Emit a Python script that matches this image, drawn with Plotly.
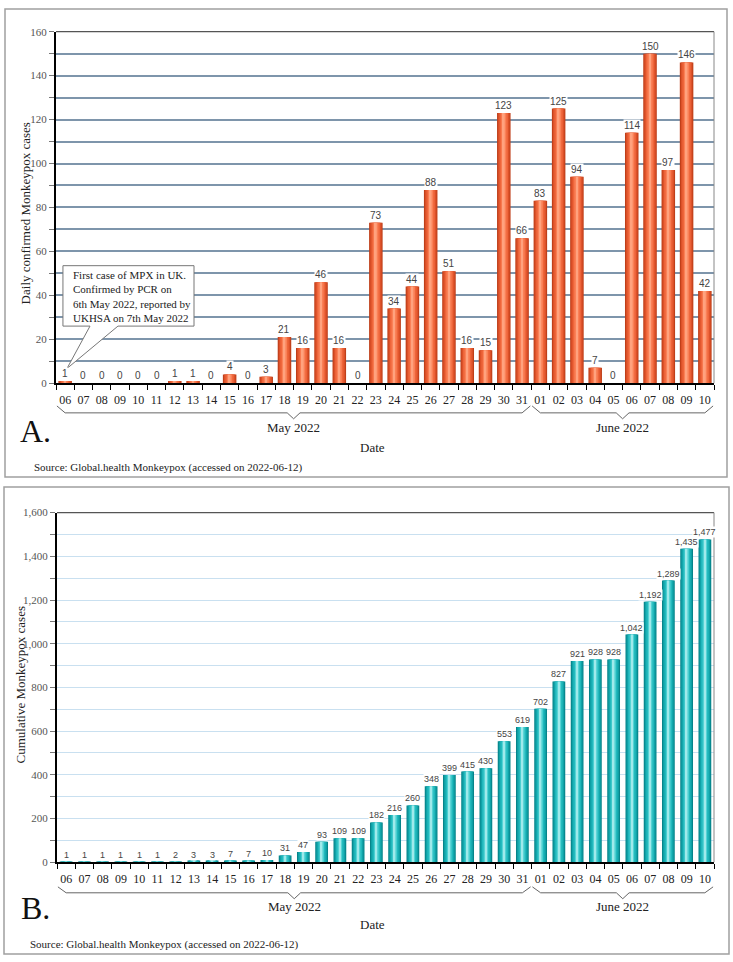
import plotly.graph_objects as go

# data
days = ["06", "07", "08", "09", "10", "11", "12", "13", "14", "15", "16", "17", "18",
        "19", "20", "21", "22", "23", "24", "25", "26", "27", "28", "29", "30", "31",
        "01", "02", "03", "04", "05", "06", "07", "08", "09", "10"]
months = ["May 2022"] * 26 + ["June 2022"] * 10
daily = [1, 0, 0, 0, 0, 0, 1, 1, 0, 4, 0, 3, 21, 16, 46, 16, 0, 73, 34, 44, 88, 51,
         16, 15, 123, 66, 83, 125, 94, 7, 0, 114, 150, 97, 146, 42]
cumulative = [1, 1, 1, 1, 1, 1, 2, 3, 3, 7, 7, 10, 31, 47, 93, 109, 109, 182, 216, 260,
              348, 399, 415, 430, 553, 619, 702, 827, 921, 928, 928, 1042, 1192, 1289,
              1435, 1477]
source_text = "Source: Global.health Monkeypox (accessed on 2022-06-12)"
callout_text = ("First case of MPX in UK.<br>Confirmed by PCR on<br>"
                "6th May 2022, reported by<br>UKHSA on 7th May 2022")

W, H = 733, 962
SERIF = "Liberation Serif, Times New Roman, serif"
NARROW = "Liberation Sans Narrow, Arial Narrow, Liberation Sans, Arial, sans-serif"


def px(p):
    return p / W


def py(p):
    return 1 - p / H


xs = list(range(len(days)))

# layered bars to fake the cylinder shading
orange = [(0.74, "#BF3F19"), (0.62, "#DC5129"), (0.46, "#EE653A"),
          (0.28, "#FA8157"), (0.10, "#FFA27E")]
teal = [(0.70, "#07848A"), (0.58, "#10A2A7"), (0.42, "#22B9BD"),
        (0.24, "#55D3D5"), (0.08, "#9FEAEB")]

fig = go.Figure()
for w, c in orange:
    fig.add_trace(go.Bar(x=xs, y=daily, width=w, marker_color=c, marker_line_width=0,
                         xaxis="x", yaxis="y", showlegend=False, hoverinfo="skip"))
for w, c in teal:
    fig.add_trace(go.Bar(x=xs, y=cumulative, width=w, marker_color=c, marker_line_width=0,
                         xaxis="x2", yaxis="y2", showlegend=False, hoverinfo="skip"))

annotations = []
shapes = []


def note(x, y, text, size, xref="paper", yref="paper", **kw):
    d = dict(x=x, y=y, xref=xref, yref=yref, text=text, showarrow=False,
             xanchor="center", yanchor="middle",
             font=dict(family=SERIF, size=size, color="#222"))
    d.update(kw)
    annotations.append(d)


# value labels
for i, v in enumerate(daily):
    note(i, v, str(v), 10, "x", "y", yanchor="bottom", yshift=1, bgcolor="white",
         borderpad=0, font=dict(family=NARROW, size=10, color="#444"))
for i, v in enumerate(cumulative):
    note(i, v, f"{v:,}", 9, "x2", "y2", yanchor="bottom", yshift=1, bgcolor="white",
         borderpad=0, font=dict(family=NARROW, size=9, color="#444"))

# month groups and braces
groups = []
for i, m in enumerate(months):
    if groups and groups[-1][0] == m:
        groups[-1][2] = i
    else:
        groups.append([m, i, i])

for xr, y_end, y_line, y_tip, y_lab in [("x", 405, 412, 418, 427), ("x2", 892, 898, 904, 912)]:
    for m, lo, hi in groups:
        c = (lo + hi) / 2
        path = (f"M {lo - 0.45},{py(y_end)} L {lo},{py(y_line)} L {c - 0.35},{py(y_line)} "
                f"L {c},{py(y_tip)} L {c + 0.35},{py(y_line)} L {hi},{py(y_line)} "
                f"L {hi + 0.45},{py(y_end)}")
        shapes.append(dict(type="path", path=path, xref=xr, yref="paper",
                           line=dict(color="#666", width=1)))
        note(c, py(y_lab), m, 13, xref=xr)

# panel texts
for y_date, y_letter, letter, y_src, x_src, y_title, x_title, title in [
        (447, 430, "A.", 467, 32, 210, 25, "Daily confirmed Monkeypox cases"),
        (930, 913, "B.", 950, 28, 688, 20, "Cumulative Monkeypox cases")]:
    note(px(372), py(y_date), "Date", 13)
    note(px(35), py(y_letter), letter, 32, font=dict(family=SERIF, size=32, color="#111"))
    note(px(x_src), py(y_src), source_text, 11, xanchor="left")
    note(px(x_title), py(y_title), title, 13, textangle=-90)

# callout for first case
shapes.append(dict(type="path", xref="x", yref="y",
                   path="M -0.12,53.5 L 7.05,53.5 L 7.05,26 L 2.89,26 L 0.1,6.7 "
                        "L 1.36,26 L -0.12,26 Z",
                   fillcolor="white", line=dict(color="#777", width=1)))
note(0.32, 39.6, callout_text, 11, "x", "y", xanchor="left", align="left")

# panel frames
shapes.append(dict(type="rect", xref="paper", yref="paper", x0=px(5), x1=px(727),
                   y0=py(477), y1=py(3), line=dict(color="#A0A0A0", width=1.5)))
shapes.append(dict(type="rect", xref="paper", yref="paper", x0=px(4), x1=px(729),
                   y0=py(960), y1=py(487), line=dict(color="#A0A0A0", width=1.5)))

# plot area top / right border
for xr, yr in [("x", "y"), ("x2", "y2")]:
    shapes.append(dict(type="line", xref=xr + " domain", yref=yr + " domain",
                       x0=0, x1=1, y0=1, y1=1, line=dict(color="#555", width=1.2)))
    shapes.append(dict(type="line", xref=xr + " domain", yref=yr + " domain",
                       x0=1, x1=1, y0=0, y1=1, line=dict(color="#888", width=1)))

xaxis_common = dict(range=[-0.5, len(days) - 0.5], tickmode="array", tickvals=xs,
                    ticktext=days, ticks="outside", ticklen=4,
                    tickcolor="rgba(0,0,0,0)", showgrid=False, zeroline=False,
                    showline=True, linecolor="black", linewidth=2,
                    tickfont=dict(family=SERIF, size=12, color="#222"),
                    minor=dict(tickmode="linear", tick0=-0.5, dtick=1, ticks="outside",
                               ticklen=5, tickcolor="black", showgrid=False))

fig.update_layout(
    width=W, height=H,
    margin=dict(l=0, r=0, t=0, b=0),
    paper_bgcolor="white", plot_bgcolor="white",
    barmode="overlay",
    font=dict(family=SERIF),
    xaxis=dict(domain=[px(56), px(714)], anchor="y", **xaxis_common),
    xaxis2=dict(domain=[px(57), px(714)], anchor="y2", **xaxis_common),
    yaxis=dict(domain=[py(382), py(26)], anchor="x", range=[0, 160], dtick=20,
               showgrid=True, gridcolor="#7E95AB", gridwidth=1.5, zeroline=False,
               showline=True, linecolor="black", linewidth=2,
               ticks="outside", ticklen=5, tickcolor="#777",
               tickfont=dict(family=SERIF, size=11, color="#555"),
               minor=dict(dtick=10, showgrid=True, gridcolor="#7E95AB", gridwidth=1.5,
                          ticks="outside", ticklen=5, tickcolor="#777")),
    yaxis2=dict(domain=[py(867), py(513)], anchor="x2", range=[0, 1600], dtick=200,
                tickformat=",", showgrid=True, gridcolor="#C9E0F0", gridwidth=1,
                zeroline=False, showline=True, linecolor="black", linewidth=2,
                ticks="outside", ticklen=5, tickcolor="#777",
                tickfont=dict(family=SERIF, size=11, color="#555"),
                minor=dict(dtick=100, showgrid=True, gridcolor="#C9E0F0", gridwidth=1,
                           ticks="outside", ticklen=5, tickcolor="#777")),
    annotations=annotations,
    shapes=shapes,
)

# the page body has a default 8px margin; drop it so the figure sits at 0,0
fig.write_html("out.html", config={"displayModeBar": False},
               post_script="document.body.style.margin='0';")
